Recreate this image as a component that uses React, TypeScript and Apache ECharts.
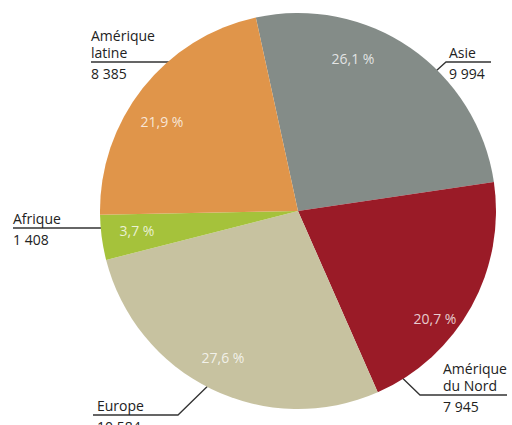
import React, { useEffect, useRef } from "react";
import * as echarts from "echarts";

const categories = ["Asie", "Amérique du Nord", "Europe", "Afrique", "Amérique latine"];
const values = [9994, 7945, 10584, 1408, 8385];
const valueLabels = ["9 994", "7 945", "10 584", "1 408", "8 385"];
const nameLines = ["Asie", "Amérique\ndu Nord", "Europe", "Afrique", "Amérique\nlatine"];
const colors = ["#848c88", "#9a1b27", "#c7c2a0", "#a5c23b", "#e0954a"];

// layout (positions only)
const CENTER: [number, number] = [298, 211];
const RADIUS = 198;
const START_ANGLE = 102.3;
const innerLabelPos = [
  [353, 58],
  [435, 318],
  [223, 357],
  [137, 230],
  [162, 121],
];
const outerLabelX = [449, 443, 97, 13, 91];
const outerLines = [
  [[416, 89], [446, 62], [491, 62]],
  [[392, 368], [420, 395], [507, 395]],
  [[217, 377], [178, 415], [93, 415]],
  [[108, 228], [60, 228], [13, 228]],
  [[206, 89], [172, 62], [91, 62]],
];
const NAME_LH = 17;
const FONT = "'Open Sans', 'Noto Sans', sans-serif";

export default function App() {
  const ref = useRef<HTMLDivElement>(null);
  useEffect(() => {
    if (!ref.current) return;
    const chart = echarts.init(ref.current, undefined, { renderer: "svg" });
    const data = categories.map((name, i) => ({
      name,
      value: values[i],
      itemStyle: { color: colors[i] },
    }));
    chart.setOption({
      animation: false,
      backgroundColor: "#ffffff",
      series: [
        {
          type: "pie",
          center: CENTER,
          radius: RADIUS,
          startAngle: START_ANGLE,
          clockwise: true,
          silent: true,
          avoidLabelOverlap: false,
          data,
          itemStyle: { borderWidth: 0 },
          label: {
            show: true,
            position: "inside",
            color: "rgba(255,255,255,0.78)",
            fontFamily: FONT,
            fontSize: 14,
            overflow: "none",
            formatter: (p: any) => p.percent.toFixed(1).replace(".", ",") + " %",
          },
          labelLine: { show: false },
          labelLayout: (p: any) => ({
            x: innerLabelPos[p.dataIndex][0],
            y: innerLabelPos[p.dataIndex][1],
            align: "center",
            verticalAlign: "middle",
          }),
        },
        {
          type: "pie",
          center: CENTER,
          radius: RADIUS,
          startAngle: START_ANGLE,
          clockwise: true,
          silent: true,
          avoidLabelOverlap: false,
          data: categories.map((name, i) => ({
            name,
            value: values[i],
            itemStyle: { color: "rgba(0,0,0,0)" },
          })),
          label: {
            show: true,
            position: "outside",
            color: "#222",
            fontFamily: FONT,
            fontSize: 14,
            overflow: "none",
            width: 120,
            formatter: (p: any) => {
              const i = p.dataIndex;
              const lines = nameLines[i].split("\n").map((l) => `{n|${l}}`);
              return lines.join("\n") + `\n{v|${valueLabels[i]}}`;
            },
            rich: {
              n: { fontFamily: FONT, fontSize: 14, lineHeight: NAME_LH, color: "#222" },
              v: { fontFamily: FONT, fontSize: 14, lineHeight: 24, color: "#222" },
            },
          },
          labelLine: {
            show: true,
            lineStyle: { color: "#333", width: 1.3 },
          },
          labelLayout: (p: any) => {
            const i = p.dataIndex;
            const pts = outerLines[i];
            const nLines = nameLines[i].split("\n").length;
            const lineY = pts[2][1];
            return {
              x: outerLabelX[i],
              y: lineY - 1 - nLines * NAME_LH,
              align: "left",
              verticalAlign: "top",
              labelLinePoints: pts,
            };
          },
        },
      ],
    });
    return () => chart.dispose();
  }, []);
  return (
    <div
      ref={ref}
      style={{ position: "absolute", left: 0, top: 0, width: 512, height: 425 }}
    />
  );
}
